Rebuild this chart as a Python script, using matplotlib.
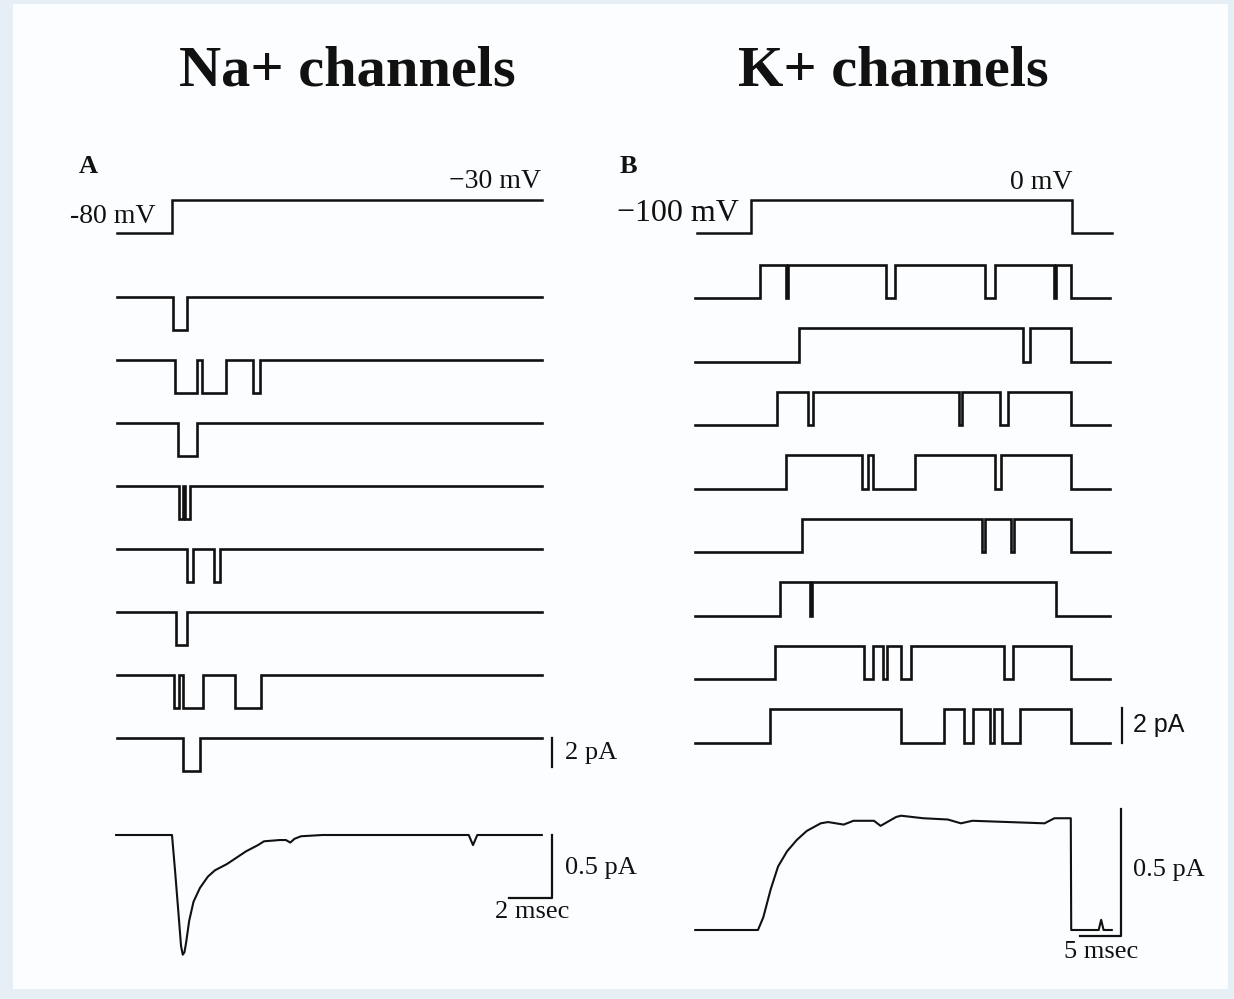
import numpy as np
import matplotlib.pyplot as plt
from matplotlib.patches import Rectangle

# ---- data ----
# Na+ channel: openings (ms after the step), 8 sweeps, step -80 -> -30 mV
na_sweeps = [
    [(0.05, 0.70)],
    [(0.14, 1.16), (1.40, 2.51), (3.77, 4.09)],
    [(0.28, 1.16)],
    [(0.33, 0.51), (0.60, 0.84)],
    [(0.70, 0.98), (1.95, 2.23)],
    [(0.19, 0.70)],
    [(0.09, 0.33), (0.51, 1.44), (2.93, 4.14)],
    [(0.51, 1.30)],
]
na_unit = -2.3          # pA
na_t_range = (-2.55, 17.2)
na_volt_t = [-2.55, 0.0, 0.0, 17.2]
na_volt_v = [-80, -80, -30, -30]
# ensemble average (pA)
na_avg_t = [-2.6, -0.05, 0.0, 0.15, 0.3, 0.42, 0.5, 0.58, 0.66, 0.8, 1.0, 1.3, 1.67, 2.0,
            2.56, 3.0, 3.44, 4.0, 4.28, 5.0, 5.3, 5.5, 5.7, 6.0, 7.0, 10.0, 13.8,
            14.0, 14.2, 17.2]
na_avg_i = [0, 0, 0, -0.3, -0.62, -0.88, -0.95, -0.93, -0.85, -0.68, -0.53, -0.42, -0.33, -0.28,
            -0.23, -0.18, -0.13, -0.08, -0.05, -0.04, -0.04, -0.06, -0.03, -0.01, 0.0, 0.0, 0.0,
            -0.08, 0.0, 0.0]

# K+ channel: openings (ms after the step), 8 sweeps, step -100 -> 0 mV
k_sweeps = [
    [(1.1, 4.3), (4.5, 16.5), (17.6, 28.5), (29.8, 37.0), (37.2, 39.0)],
    [(5.9, 33.2), (34.0, 39.0)],
    [(3.2, 7.0), (7.6, 25.4), (25.7, 30.4), (31.3, 39.0)],
    [(4.3, 13.5), (14.3, 14.9), (20.0, 29.8), (30.5, 39.0)],
    [(6.2, 28.2), (28.5, 31.7), (32.1, 39.0)],
    [(3.5, 7.2), (7.4, 37.2)],
    [(2.9, 13.8), (14.9, 16.1), (16.6, 18.3), (19.5, 30.9), (32.0, 39.0)],
    [(2.3, 18.3), (23.5, 26.0), (27.1, 29.1), (29.6, 30.6), (32.8, 39.0)],
]
k_unit = 1.9            # pA
k_t_range = (-6.8, 43.8)
k_volt_t = [-6.6, 0.0, 0.0, 39.1, 39.1, 44.0]
k_volt_v = [-100, -100, 0, 0, -100, -100]
k_avg_t = [-6.8, 0.85, 1.5, 2.4, 3.3, 4.4, 5.6, 6.8, 8.5, 9.4, 11.3, 12.5, 15.0, 15.8,
           17.7, 18.3, 21.0, 24.0, 25.6, 27.0, 35.8, 37.0, 39.0, 39.05, 42.4, 42.7, 43.0, 44.0]
k_avg_i = [0, 0, 0.05, 0.16, 0.25, 0.31, 0.355, 0.39, 0.42, 0.425, 0.415, 0.43, 0.43, 0.41,
           0.445, 0.45, 0.44, 0.435, 0.42, 0.43, 0.42, 0.44, 0.44, 0.0, 0.0, 0.04, 0.0, 0.0]

# ---- figure ----
W, H = 1234, 999
fig = plt.figure(figsize=(W / 100, H / 100), dpi=100, facecolor='#e6eff5')
fig.patches.append(Rectangle((13 / W, 1 - 989 / H), 1215 / W, 985 / H,
                             transform=fig.transFigure, fc='#fcfdfe', ec='none', zorder=-5))
INK = '#111111'
SERIF = 'Liberation Serif'


def panel_axes(box, x0, sx, y0, yval, sy):
    # box in pixels (left, top, right, bottom); x0 = pixel of t=0, y0 = pixel of value yval
    l, t, r, b = box
    ax = fig.add_axes([l / W, 1 - b / H, (r - l) / W, (b - t) / H])
    ax.set_xlim((l - x0) / sx, (r - x0) / sx)
    ax.set_ylim(yval + (y0 - b) / sy, yval + (y0 - t) / sy)
    ax.axis('off')
    return ax


def step_trace(events, t0, t1, amp, base):
    xs, ys = [t0], [base]
    for a, b in events:
        xs += [a, a, b, b]
        ys += [base, base + amp, base + amp, base]
    xs.append(t1)
    ys.append(base)
    return xs, ys


def ftext(x, y, s, **kw):
    fig.text(x / W, 1 - y / H, s, **kw)


lw_trace = 1.9

# ---------- panel A : Na+ ----------
ax = panel_axes((60, 150, 620, 260), 172, 21.5, 233, -80, 0.66)
ax.plot(na_volt_t, na_volt_v, color=INK, lw=1.8, solid_joinstyle='miter')

sy_na = 14.5
ax = panel_axes((60, 260, 660, 800), 172, 21.5, 297, 0, sy_na)
gap = 63 / sy_na
for i, ev in enumerate(na_sweeps):
    xs, ys = step_trace(ev, na_t_range[0], na_t_range[1], na_unit, -i * gap)
    ax.plot(xs, ys, color=INK, lw=lw_trace, solid_joinstyle='miter')
base8 = -7 * gap
ax.plot([17.67, 17.67], [base8 - 2.0, base8], color=INK, lw=1.6)
ax.text(18.3, base8 - 1.0, '2 pA', family=SERIF, fontsize=19, va='center', ha='left', color=INK)

ax = panel_axes((60, 800, 660, 980), 172, 21.5, 835, 0, 126)
ax.plot(na_avg_t, na_avg_i, color=INK, lw=1.5)
ax.plot([15.67, 17.67, 17.67], [-0.5, -0.5, 0.0], color=INK, lw=1.6)
ax.text(18.3, -0.26, '0.5 pA', family=SERIF, fontsize=19, va='center', ha='left', color=INK)
ax.text(16.75, -0.61, '2 msec', family=SERIF, fontsize=19, va='center', ha='center', color=INK)

# ---------- panel B : K+ ----------
ax = panel_axes((640, 150, 1180, 260), 751, 8.2, 233, -100, 0.33)
ax.plot(k_volt_t, k_volt_v, color=INK, lw=1.8, solid_joinstyle='miter')

sy_k = 17.5
ax = panel_axes((640, 240, 1220, 800), 751, 8.2, 298, 0, sy_k)
gap = 63.5 / sy_k
for i, ev in enumerate(k_sweeps):
    xs, ys = step_trace(ev, k_t_range[0], k_t_range[1], k_unit, -i * gap)
    ax.plot(xs, ys, color=INK, lw=lw_trace, solid_joinstyle='miter')
base8 = -7 * gap
ax.plot([45.2, 45.2], [base8, base8 + 2.0], color=INK, lw=1.6)
ax.text(46.6, base8 + 1.0, '2 pA', family='Liberation Sans', fontsize=18, va='center', ha='left', color=INK)

ax = panel_axes((640, 790, 1220, 980), 751, 8.2, 930, 0, 254)
ax.plot(k_avg_t, k_avg_i, color=INK, lw=1.5)
ax.plot([40.1, 45.1, 45.1], [-0.025, -0.025, 0.475], color=INK, lw=1.6)
ax.text(46.6, 0.236, '0.5 pA', family=SERIF, fontsize=19, va='center', ha='left', color=INK)
ax.text(42.7, -0.087, '5 msec', family=SERIF, fontsize=19, va='center', ha='center', color=INK)

# ---------- titles and labels ----------
ftext(347, 85, 'Na+ channels', family=SERIF, weight='bold', fontsize=42, ha='center', va='baseline', color=INK)
ftext(893, 85, 'K+ channels', family=SERIF, weight='bold', fontsize=42, ha='center', va='baseline', color=INK)
ftext(79, 173, 'A', family=SERIF, weight='bold', fontsize=19, ha='left', va='baseline', color=INK)
ftext(620, 173, 'B', family=SERIF, weight='bold', fontsize=19, ha='left', va='baseline', color=INK)
ftext(541, 188, '\u221230 mV', family=SERIF, fontsize=20, ha='right', va='baseline', color=INK)
ftext(70, 223, '-80 mV', family=SERIF, fontsize=20, ha='left', va='baseline', color=INK)
ftext(1072, 189, '0 mV', family=SERIF, fontsize=20, ha='right', va='baseline', color=INK)
ftext(617, 221, '\u2212100 mV', family=SERIF, fontsize=23, ha='left', va='baseline', color=INK)

fig.savefig('out.png', dpi=100, facecolor=fig.get_facecolor())
